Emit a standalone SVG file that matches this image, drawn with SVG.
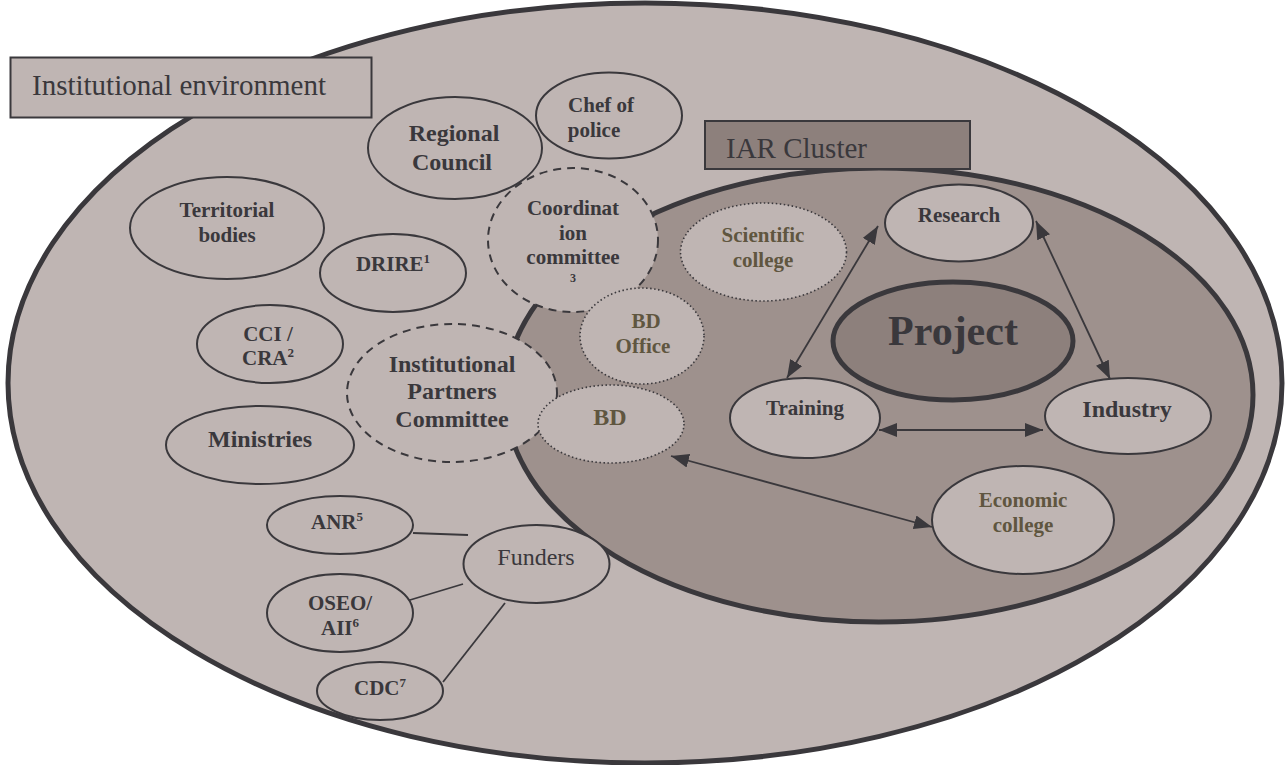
<svg xmlns="http://www.w3.org/2000/svg" width="1288" height="765" viewBox="0 0 1288 765">
<style>
text{font-family:"Liberation Serif","Times New Roman",serif;fill:#3a383c;text-anchor:middle}
.b{font-weight:bold;font-size:21px}
.bl{font-weight:bold;font-size:24px}
.ol{fill:#5f5640}
.node{fill:#bfb5b3;stroke:#3a383c;stroke-width:2}
.dash{fill:#bfb5b3;stroke:#3a383c;stroke-width:2;stroke-dasharray:8 6}
.dot{fill:#bfb5b3;stroke:#3a383c;stroke-width:1.6;stroke-dasharray:1.5 2.5}
.sup{font-size:13px}
.ln{stroke:#3a383c;stroke-width:1.8;fill:none}
.arr{stroke:#3a383c;stroke-width:1.8;fill:none;marker-start:url(#ah);marker-end:url(#ah)}
</style>
<defs>
<marker id="ah" markerUnits="userSpaceOnUse" markerWidth="20" markerHeight="16" refX="18" refY="7" orient="auto-start-reverse">
<path d="M0,0 L18,7 L0,14 z" fill="#3a383c"/>
</marker>
</defs>
<rect width="1288" height="765" fill="#ffffff"/>
<g id="institutional-environment">
<ellipse cx="645" cy="383" rx="637" ry="380" fill="#bfb5b3" stroke="#3a383c" stroke-width="5"/>
<rect x="10.5" y="57.5" width="361" height="60" fill="#bfb5b3" stroke="#3a383c" stroke-width="2"/>
<text x="32" y="95" style="font-size:29px;text-anchor:start">Institutional environment</text>
</g>
<g id="iar-cluster">
<ellipse cx="879" cy="395" rx="374" ry="227" fill="#9e918d" stroke="#3a383c" stroke-width="5"/>
<rect x="705" y="121" width="265" height="48" fill="#8d807c" stroke="#3a383c" stroke-width="2"/>
<text x="726" y="158" style="font-size:29px;text-anchor:start">IAR Cluster</text>
</g>
<g id="connectors">
<line class="ln" x1="413" y1="533" x2="468" y2="535"/>
<line class="ln" x1="400" y1="603" x2="463" y2="584"/>
<line class="ln" x1="443" y1="682" x2="505" y2="603"/>
<line class="arr" x1="878" y1="226" x2="787" y2="378"/>
<line class="arr" x1="1036" y1="221" x2="1110" y2="379"/>
<line class="arr" x1="879" y1="430" x2="1043" y2="430"/>
<line class="arr" x1="671" y1="456" x2="932" y2="527"/>
</g>
<g id="regional-council">
<ellipse class="node" cx="455" cy="148" rx="87" ry="51"/>
<text class="bl" x="454" y="141">Regional</text>
<text class="bl" x="452" y="170">Council</text>
</g>
<g id="chef-of-police">
<ellipse class="node" cx="609" cy="115.5" rx="73" ry="43"/>
<text class="b" x="601" y="112">Chef of</text>
<text class="b" x="594" y="137">police</text>
</g>
<g id="territorial-bodies">
<ellipse class="node" cx="227" cy="228" rx="97" ry="51"/>
<text class="b" x="227" y="217">Territorial</text>
<text class="b" x="227" y="242">bodies</text>
</g>
<g id="drire">
<ellipse class="node" cx="393" cy="273" rx="73" ry="39"/>
<text class="b" x="393" y="271">DRIRE<tspan class="sup" dy="-8">1</tspan></text>
</g>
<g id="cci-cra">
<ellipse class="node" cx="270" cy="344" rx="73" ry="39"/>
<text class="b" x="268" y="341">CCI /</text>
<text class="b" x="268" y="365">CRA<tspan class="sup" dy="-8">2</tspan></text>
</g>
<g id="ministries">
<ellipse class="node" cx="260" cy="445" rx="94" ry="39"/>
<text class="bl" x="260" y="447">Ministries</text>
</g>
<g id="coordination-committee">
<ellipse class="dash" cx="573" cy="240" rx="85" ry="72"/>
<text class="b" x="573" y="215">Coordinat</text>
<text class="b" x="573" y="240">ion</text>
<text class="b" x="573" y="264">committee</text>
<text x="573" y="282" style="font-weight:bold;font-size:12px">3</text>
</g>
<g id="institutional-partners-committee">
<ellipse class="dash" cx="452" cy="393" rx="105" ry="69"/>
<text class="bl" x="452" y="372">Institutional</text>
<text class="bl" x="452" y="399">Partners</text>
<text class="bl" x="452" y="427">Committee</text>
</g>
<g id="scientific-college">
<ellipse class="dot" cx="763.5" cy="252" rx="83" ry="49"/>
<text class="b ol" x="763" y="242">Scientific</text>
<text class="b ol" x="763" y="267">college</text>
</g>
<g id="bd-office">
<ellipse class="dot" cx="642" cy="336" rx="62" ry="48"/>
<text class="b ol" x="646" y="328">BD</text>
<text class="b ol" x="643" y="353">Office</text>
</g>
<g id="bd">
<ellipse class="dot" cx="611" cy="424" rx="73" ry="39"/>
<text class="bl ol" x="610" y="425">BD</text>
</g>
<g id="project">
<ellipse cx="953" cy="341" rx="120" ry="59" fill="#8d807c" stroke="#3a383c" stroke-width="5"/>
<text x="953" y="345" style="font-weight:bold;font-size:42px">Project</text>
</g>
<g id="research">
<ellipse class="node" cx="959" cy="223" rx="74" ry="38.5"/>
<text class="b" x="959" y="222">Research</text>
</g>
<g id="training">
<ellipse class="node" cx="805" cy="418" rx="75" ry="40"/>
<text class="b" x="805" y="415">Training</text>
</g>
<g id="industry">
<ellipse class="node" cx="1128" cy="416" rx="83" ry="38"/>
<text class="bl" x="1127" y="417">Industry</text>
</g>
<g id="economic-college">
<ellipse class="node" cx="1023" cy="520" rx="91" ry="54"/>
<text class="b ol" x="1023" y="507">Economic</text>
<text class="b ol" x="1023" y="532">college</text>
</g>
<g id="anr">
<ellipse class="node" cx="340" cy="525" rx="73" ry="29"/>
<text class="b" x="337" y="529">ANR<tspan class="sup" dy="-8">5</tspan></text>
</g>
<g id="funders">
<ellipse class="node" cx="536.5" cy="564" rx="73" ry="39"/>
<text x="536" y="565" style="font-size:24px">Funders</text>
</g>
<g id="oseo-aii">
<ellipse class="node" cx="340" cy="613" rx="73" ry="39"/>
<text class="b" x="340" y="610">OSEO/</text>
<text class="b" x="340" y="635">AII<tspan class="sup" dy="-8">6</tspan></text>
</g>
<g id="cdc">
<ellipse class="node" cx="380" cy="691" rx="63" ry="29"/>
<text class="b" x="380" y="695">CDC<tspan class="sup" dy="-8">7</tspan></text>
</g>
</svg>
